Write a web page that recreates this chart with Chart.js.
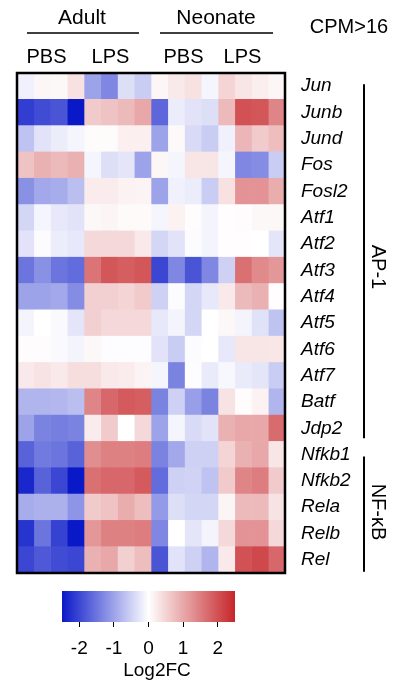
<!DOCTYPE html>
<html>
<head>
<meta charset="utf-8">
<script src="https://cdn.jsdelivr.net/npm/chart.js@4.4.1/dist/chart.umd.min.js"></script>
<style>
  body { margin: 0; background: #fff; }
  #wrap { position: relative; width: 396px; height: 690px; }
  #heat { position: absolute; left: 0; top: 0; }
  #bar { position: absolute; left: 0; top: 580px; }
</style>
</head>
<body>
<div id="wrap">
  <canvas id="heat" width="396" height="690"></canvas>
  <canvas id="bar" width="300" height="110"></canvas>
</div>
<script>
// genes (rows) and samples (columns)
var genes = ['Jun','Junb','Jund','Fos','Fosl2','Atf1','Atf2','Atf3','Atf4','Atf5',
             'Atf6','Atf7','Batf','Jdp2','Nfkb1','Nfkb2','Rela','Relb','Rel'];
var groups = ['Adult', 'Neonate'];
var treatments = ['PBS', 'LPS', 'PBS', 'LPS'];
var nSamples = 16;

// log2 fold change, one row per gene, 4 Adult PBS | 4 Adult LPS | 4 Neonate PBS | 4 Neonate LPS
var log2fc = [
  [-0.15, 0.1, 0.08, 0.35, -1.0, -1.3, -0.35, -0.55, 0.1, 0.25, 0.35, -0.1, 0.5, 0.3, 0.2, 0.1],
  [-2.1, -1.95, -1.85, -2.5, 0.6, 0.7, 0.8, 1.0, -1.65, -0.2, -0.3, -0.35, 0.8, 2.0, 1.95, 1.4],
  [-0.65, -0.3, -0.2, -0.1, 0.05, 0.05, 0.18, 0.18, -1.0, 0.07, -0.4, -0.55, -0.15, 0.85, 0.6, 0.75],
  [0.7, 0.9, 0.8, 0.9, -0.1, -0.35, -0.28, -1.0, 0.1, -0.1, 0.3, 0.3, -0.1, -1.3, -1.25, -0.55],
  [-1.2, -0.95, -0.9, -0.7, 0.22, 0.22, 0.15, 0.13, -1.0, -0.15, -0.2, -0.55, 0.35, 1.25, 1.25, 0.95],
  [-0.45, -0.1, -0.25, -0.3, 0.08, 0.12, 0.06, 0.06, -0.1, 0.15, 0.03, -0.12, 0.02, 0.03, 0.08, 0.08],
  [-0.3, -0.03, -0.2, -0.25, 0.45, 0.45, 0.45, 0.25, -0.45, -0.3, -0.03, -0.12, 0.02, 0.02, 0, -0.28],
  [-1.5, -1.2, -1.5, -1.6, 1.6, 1.95, 1.85, 1.95, -2.0, -1.3, -1.85, -1.3, -0.5, 1.65, 1.35, 1.2],
  [-1.0, -1.0, -0.95, -1.25, 0.55, 0.55, 0.5, 0.6, -0.5, -0.03, -0.45, -0.25, 0.25, 0.8, 0.9, 0.02],
  [-0.12, 0, -0.06, -0.28, 0.55, 0.45, 0.45, 0.45, -0.25, -0.12, -0.45, 0, 0.08, -0.12, -0.32, -0.65],
  [0.04, 0.04, -0.06, -0.12, 0.08, -0.02, -0.02, -0.02, -0.3, -0.55, -0.03, 0, -0.25, 0.3, 0.3, 0.28],
  [0.25, 0.32, 0.25, 0.38, 0.38, 0.25, 0.22, 0.13, -0.1, -1.35, -0.02, -0.22, -0.08, -0.22, -0.28, -0.55],
  [-0.8, -0.8, -0.78, -0.7, 1.4, 1.75, 1.9, 1.85, -1.35, -0.5, -1.05, -1.35, 0.32, 0.03, 0.15, -0.8],
  [-1.0, -1.35, -1.4, -1.35, 0.22, 0.6, 0, 0.45, -1.0, -0.1, -0.4, -0.3, 0.9, 1.0, 1.0, 1.7],
  [-1.7, -1.45, -1.5, -1.7, 1.3, 1.45, 1.45, 1.5, -1.35, -0.95, -0.5, -0.5, 0.5, 0.9, 1.0, 0.3],
  [-2.35, -1.7, -2.0, -2.5, 1.65, 1.75, 1.75, 1.9, -1.6, -0.5, -0.48, -0.65, 0.6, 1.4, 1.5, 0.6],
  [-0.9, -0.85, -0.85, -1.15, 0.6, 0.7, 0.95, 0.75, -1.1, -0.35, -0.45, -0.45, 0.12, 0.8, 0.8, 0.32],
  [-2.2, -1.5, -2.05, -2.5, 1.2, 1.45, 1.45, 1.5, -1.3, 0, -0.28, -0.12, 0.45, 1.25, 1.25, 0.45],
  [-2.0, -1.8, -1.95, -2.0, 0.9, 1.0, 0.55, 0.75, -1.85, -0.3, -0.5, -0.8, 0.25, 2.0, 2.1, 1.75]
];

var colorMin = -2.5, colorMax = 2.5;
var colorbarTicks = [-2, -1, 0, 1, 2];

var FONT = '"Liberation Sans", Arial, sans-serif';

function heatColor(v) {
  var t = Math.max(-1, Math.min(1, v / colorMax));
  var end = t < 0 ? [10, 25, 200] : [198, 38, 42];
  var a = Math.abs(t);
  var c = end.map(function (e) { return Math.round(255 + (e - 255) * a); });
  return 'rgb(' + c.join(',') + ')';
}

// one stacked dataset per sample column
var datasets = [];
for (var j = 0; j < nSamples; j++) {
  datasets.push({
    data: genes.map(function () { return 1; }),
    backgroundColor: log2fc.map(function (row) { return heatColor(row[j]); }),
    borderWidth: 0,
    barPercentage: 1,
    categoryPercentage: 1
  });
}

var decorations = {
  id: 'decorations',
  afterDraw: function (chart) {
    var ctx = chart.ctx, a = chart.chartArea, x = chart.scales.x, y = chart.scales.y;
    ctx.save();
    // frame
    ctx.strokeStyle = '#000';
    ctx.lineWidth = 2.5;
    ctx.strokeRect(a.left, a.top, a.right - a.left, a.bottom - a.top);

    ctx.fillStyle = '#000';
    ctx.textAlign = 'center';
    ctx.textBaseline = 'middle';
    // group titles with lines
    ctx.font = '21px ' + FONT;
    ctx.fillText(groups[0], 82, 18);
    ctx.fillText(groups[1], 216, 18);
    ctx.lineWidth = 1.5;
    ctx.beginPath();
    ctx.moveTo(27, 33); ctx.lineTo(139, 33);
    ctx.moveTo(160, 33); ctx.lineTo(273, 33);
    ctx.stroke();
    ctx.font = '20px ' + FONT;
    ctx.fillText('CPM>16', 349, 27);
    // treatment labels
    var offs = [-4, -7, -1, -9];
    treatments.forEach(function (t, i) {
      ctx.fillText(t, x.getPixelForValue(i * 4 + 2) + offs[i], 57);
    });

    // right brackets
    ctx.lineWidth = 2;
    ctx.beginPath();
    ctx.moveTo(364, y.getPixelForValue(0) - 2);
    ctx.lineTo(364, y.getPixelForValue(13) + 10);
    ctx.moveTo(364, y.getPixelForValue(14) + 2);
    ctx.lineTo(364, y.getPixelForValue(18) + 12);
    ctx.stroke();
    ctx.font = '20px ' + FONT;
    ctx.translate(378, 267);
    ctx.rotate(Math.PI / 2);
    ctx.fillText('AP-1', 0, 0);
    ctx.rotate(-Math.PI / 2);
    ctx.translate(0, 512 - 267);
    ctx.rotate(Math.PI / 2);
    ctx.fillText('NF-\u03BAB', 0, 0);
    ctx.restore();
  }
};

new Chart(document.getElementById('heat'), {
  type: 'bar',
  data: { labels: genes, datasets: datasets },
  options: {
    indexAxis: 'y',
    responsive: false,
    animation: false,
    layout: { padding: { left: 17, top: 73, bottom: 117, right: 0 } },
    plugins: { legend: { display: false }, tooltip: { enabled: false } },
    scales: {
      x: { stacked: true, min: 0, max: nSamples, display: false },
      y: {
        stacked: true,
        position: 'right',
        grid: { display: false },
        border: { display: false },
        ticks: { color: '#000', padding: 8, font: { family: FONT, size: 19, style: 'italic' } },
        afterFit: function (s) { s.width = 111; }
      }
    }
  },
  plugins: [decorations]
});

// colour bar
var barTitle = {
  id: 'barTitle',
  afterDraw: function (chart) {
    var ctx = chart.ctx;
    ctx.save();
    ctx.fillStyle = '#000';
    ctx.font = '19px ' + FONT;
    ctx.textAlign = 'center';
    ctx.textBaseline = 'middle';
    ctx.fillText('Log2FC', 157, 91);
    ctx.restore();
  }
};

new Chart(document.getElementById('bar'), {
  type: 'bar',
  data: {
    labels: ['Log2FC'],
    datasets: [{
      data: [[colorMin, colorMax]],
      barPercentage: 1,
      categoryPercentage: 1,
      borderWidth: 0,
      backgroundColor: function (c) {
        var area = c.chart.chartArea;
        if (!area) return '#fff';
        var g = c.chart.ctx.createLinearGradient(area.left, 0, area.right, 0);
        for (var v = colorMin; v <= colorMax + 1e-9; v += 0.25) {
          g.addColorStop((v - colorMin) / (colorMax - colorMin), heatColor(v));
        }
        return g;
      }
    }]
  },
  options: {
    indexAxis: 'y',
    responsive: false,
    animation: false,
    layout: { padding: { left: 62, right: 65, top: 11, bottom: 0 } },
    plugins: { legend: { display: false }, tooltip: { enabled: false } },
    scales: {
      x: {
        type: 'linear',
        min: colorMin,
        max: colorMax,
        position: 'bottom',
        grid: { drawOnChartArea: false, tickLength: 5, color: '#000', lineWidth: 1 },
        border: { display: false },
        ticks: { color: '#000', padding: 10, font: { family: FONT, size: 19 } },
        afterBuildTicks: function (s) { s.ticks = colorbarTicks.map(function (v) { return { value: v }; }); },
        afterFit: function (s) { s.height = 68; }
      },
      y: { display: false }
    }
  },
  plugins: [barTitle]
});
</script>
</body>
</html>
